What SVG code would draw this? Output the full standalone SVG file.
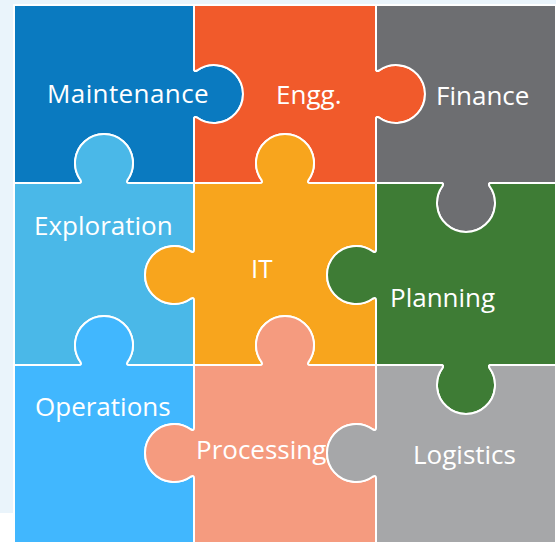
<svg xmlns="http://www.w3.org/2000/svg" width="558" height="542" viewBox="0 0 558 542">
<style>
.pc{stroke:#FFFFFF;stroke-width:2;stroke-linejoin:round}
.lb{font-family:"Open Sans","Liberation Sans",sans-serif;font-size:26px;fill:#FFFFFF}
</style>
<rect x="0" y="0" width="558" height="542" fill="#FFFFFF"/>
<rect x="0" y="0" width="558" height="513" fill="#EAF4FB"/>
<rect x="556" y="0" width="2" height="542" fill="#FFFFFF"/>
<g id="maintenance">
<path class="pc" fill="#0A7AC0" d="M14,5 H194 L194,69 Q194,72 197,70.5 A29,29 0 1 1 197,117.5 Q194,116 194,119 L194,183 L129,183 Q126,183 127.5,180 A29,29 0 1 0 80.5,180 Q82,183 79,183 L14,183 Z"/>
<text class="lb" x="47" y="103" letter-spacing="0.4">Maintenance</text>
</g>
<g id="engg">
<path class="pc" fill="#F15A2B" d="M194,5 H376 L376,69 Q376,72 379,70.5 A29,29 0 1 1 379,117.5 Q376,116 376,119 L376,183 L310,183 Q307,183 308.5,180 A29,29 0 1 0 261.5,180 Q263,183 260,183 L194,183 L194,119 Q194,116 197,117.5 A29,29 0 1 0 197,70.5 Q194,72 194,69 Z"/>
<text class="lb" x="276" y="104">Engg.</text>
</g>
<g id="finance">
<path class="pc" fill="#6D6E71" d="M376,5 H556 V183 L491,183 Q488,183 489.5,186 A29,29 0 1 1 442.5,186 Q444,183 441,183 L376,183 L376,119 Q376,116 379,117.5 A29,29 0 1 0 379,70.5 Q376,72 376,69 Z"/>
<text class="lb" x="436" y="105">Finance</text>
</g>
<g id="exploration">
<path class="pc" fill="#4AB8E8" d="M14,183 L79,183 Q82,183 80.5,180 A29,29 0 1 1 127.5,180 Q126,183 129,183 L194,183 L194,250 Q194,253 191,251.5 A29,29 0 1 0 191,298.5 Q194,297 194,300 L194,365 L129,365 Q126,365 127.5,362 A29,29 0 1 0 80.5,362 Q82,365 79,365 L14,365 Z"/>
<text class="lb" x="34" y="235">Exploration</text>
</g>
<g id="it">
<path class="pc" fill="#F8A51D" d="M194,183 L260,183 Q263,183 261.5,180 A29,29 0 1 1 308.5,180 Q307,183 310,183 L376,183 L376,250 Q376,253 373,251.5 A29,29 0 1 0 373,298.5 Q376,297 376,300 L376,365 L310,365 Q307,365 308.5,362 A29,29 0 1 0 261.5,362 Q263,365 260,365 L194,365 L194,300 Q194,297 191,298.5 A29,29 0 1 1 191,251.5 Q194,253 194,250 Z"/>
<text class="lb" x="251" y="278">IT</text>
</g>
<g id="planning">
<path class="pc" fill="#3E7C35" d="M376,183 L441,183 Q444,183 442.5,186 A29,29 0 1 0 489.5,186 Q488,183 491,183 L556,183 V365 L491,365 Q488,365 489.5,368 A29,29 0 1 1 442.5,368 Q444,365 441,365 L376,365 L376,300 Q376,297 373,298.5 A29,29 0 1 1 373,251.5 Q376,253 376,250 Z"/>
<text class="lb" x="390" y="307">Planning</text>
</g>
<g id="operations">
<path class="pc" fill="#41B7FE" d="M14,365 L79,365 Q82,365 80.5,362 A29,29 0 1 1 127.5,362 Q126,365 129,365 L194,365 L194,428 Q194,431 191,429.5 A29,29 0 1 0 191,476.5 Q194,475 194,478 L194,546 L14,546 Z"/>
<text class="lb" x="35" y="416">Operations</text>
</g>
<g id="processing">
<path class="pc" fill="#F59B7F" d="M194,365 L260,365 Q263,365 261.5,362 A29,29 0 1 1 308.5,362 Q307,365 310,365 L376,365 L376,428 Q376,431 373,429.5 A29,29 0 1 0 373,476.5 Q376,475 376,478 L376,546 L194,546 L194,478 Q194,475 191,476.5 A29,29 0 1 1 191,429.5 Q194,431 194,428 Z"/>
<text class="lb" x="196" y="459">Processing</text>
</g>
<g id="logistics">
<path class="pc" fill="#A6A7A9" d="M376,365 L441,365 Q444,365 442.5,368 A29,29 0 1 0 489.5,368 Q488,365 491,365 L556,365 V546 H376 L376,478 Q376,475 373,476.5 A29,29 0 1 1 373,429.5 Q376,431 376,428 Z"/>
<text class="lb" x="413" y="464">Logistics</text>
</g>
<g id="connectors"></g>
</svg>
